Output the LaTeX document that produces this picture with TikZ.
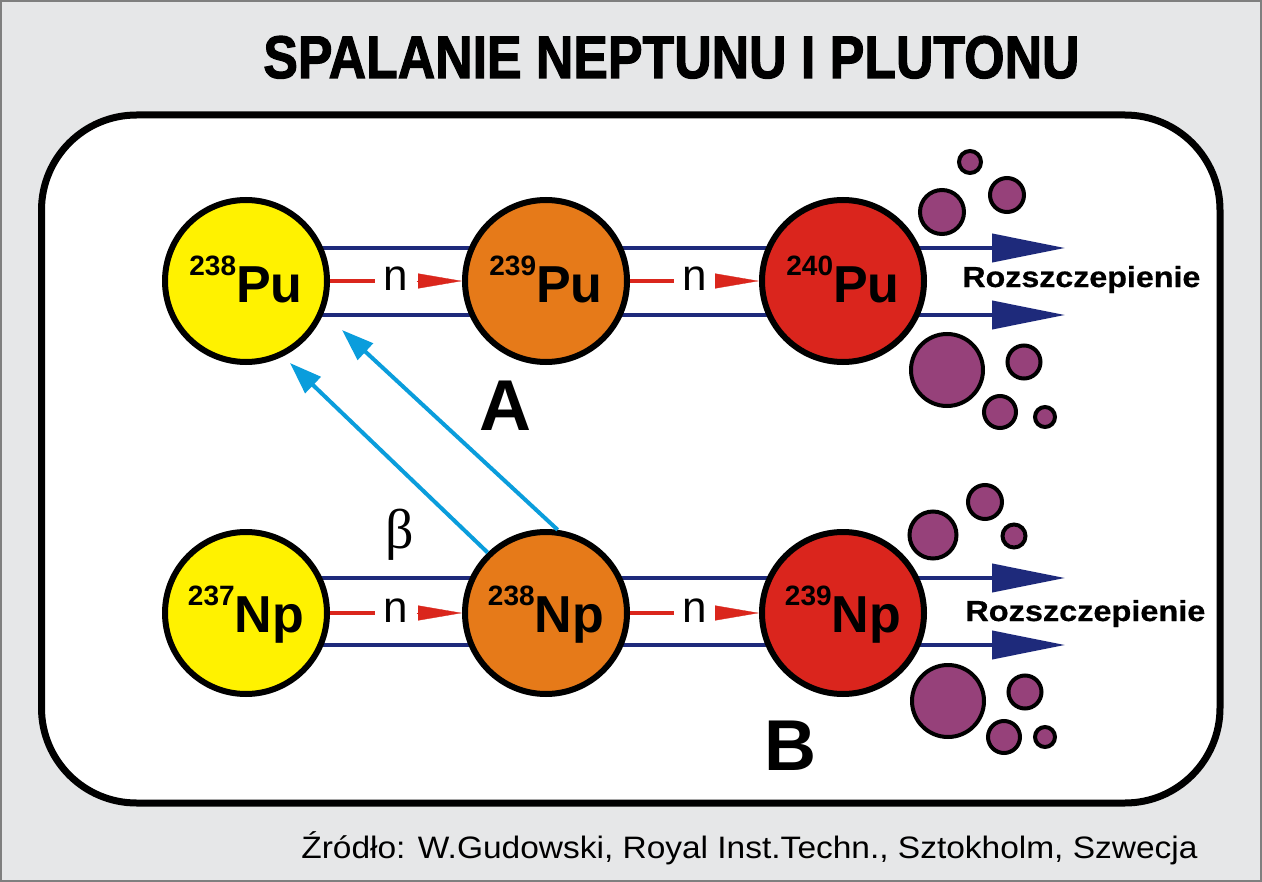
\documentclass[tikz,border=0pt]{standalone}
\usepackage{fontspec}
\setmainfont{Liberation Sans}
\newfontfamily\grkfont{Liberation Serif}
\newfontfamily\titlefont[FakeBold=2]{Liberation Sans Bold}
\newfontfamily\fisfont[FakeBold=0.6]{Liberation Sans Bold}
\usetikzlibrary{arrows.meta}
\newdimen\pxu \pxu=0.02cm
\definecolor{bg}{HTML}{E6E7E8}
\definecolor{edge}{HTML}{7F7F7F}
\definecolor{yel}{HTML}{FFF200}
\definecolor{ora}{HTML}{E67A19}
\definecolor{redc}{HTML}{DA251D}
\definecolor{purp}{HTML}{96417A}
\definecolor{navy}{HTML}{1E2A7B}
\definecolor{nred}{HTML}{DA261C}
\definecolor{cyanb}{HTML}{0A9DDC}
\newcommand\nuclab[2]{\raisebox{27\pxu}{\fontsize{28\pxu}{28\pxu}\selectfont\bfseries #1}{\fontsize{52\pxu}{52\pxu}\selectfont\bfseries #2}}
\begin{document}
\begin{tikzpicture}[x=0.02cm,y=-0.02cm,
  nuc/.style={circle, draw=black, line width=6\pxu, minimum size=162\pxu, inner sep=0pt},
  bub/.style={circle, draw=black, line width=4\pxu, fill=purp, inner sep=0pt},
  fiss/.style={draw=navy, line width=4\pxu, -{Triangle[length=41.5pt,width=15.9pt]}},
  nline/.style={draw=nred, line width=4\pxu, shorten >=8\pxu},
  ntip/.style={draw=nred, line width=0.3\pxu, shorten <=8\pxu, -{Triangle[length=25pt,width=8.5pt]}},
  decay/.style={draw=cyanb, line width=4\pxu, -{Triangle[length=18.2pt,width=12.5pt]}},
  nlab/.style={font=\fontsize{44\pxu}{44\pxu}\selectfont, inner sep=0pt, anchor=base},
  lab/.style={inner sep=0pt, anchor=base},
  big/.style={font=\fontsize{72\pxu}{72\pxu}\selectfont\bfseries, inner sep=0pt, anchor=base},
  fissl/.style={inner sep=0pt, anchor=base west}
]
\useasboundingbox (0,0) rectangle (1262,882);
\fill[bg] (0,0) rectangle (1262,882);
\draw[edge, line width=2\pxu] (1,1) rectangle (1261,881);
% title
\node[inner sep=0pt, anchor=base west] (title) at (263,78)
  {\resizebox{816\pxu}{42\pxu}{\titlefont SPALANIE NEPTUNU I PLUTONU}};
% panel
\draw[line width=7\pxu, fill=white, rounded corners=95\pxu] (41.5,115) rectangle (1220,803);
% footer
\node[inner sep=0pt, anchor=base west] (src) at (301,858)
  {\scalebox{1.08}[1]{\fontsize{31\pxu}{31\pxu}\selectfont Źródło: W.Gudowski, Royal Inst.Techn., Sztokholm, Szwecja}};

% coordinates
\coordinate (fA1) at (1065,248);
\coordinate (fA2) at (1065,315);
\coordinate (fB1) at (1065,578);
\coordinate (fB2) at (1065,645);
\coordinate (tA1) at (290,363);
\coordinate (tA2) at (342,330);

% nucleus positions
\path (246,281) node[nuc, draw=none] (pu238) {}
      (546,281) node[nuc, draw=none] (pu239) {}
      (843,281) node[nuc, draw=none] (pu240) {}
      (246,613) node[nuc, draw=none] (np237) {}
      (546,613) node[nuc, draw=none] (np238) {}
      (843,613) node[nuc, draw=none] (np239) {};

% fission axis lines
\draw[fiss] (pu238.center |- fA1) -- (fA1);
\draw[fiss] (pu238.center |- fA2) -- (fA2);
\draw[fiss] (np237.center |- fB1) -- (fB1);
\draw[fiss] (np237.center |- fB2) -- (fB2);

% circles drawn over the lines
\node[nuc, fill=yel] (Pu238) at (pu238) {};
\node[nuc, fill=ora] (Pu239) at (pu239) {};
\node[nuc, fill=redc] (Pu240) at (pu240) {};
\node[nuc, fill=yel] (Np237) at (np237) {};
\node[nuc, fill=ora] (Np238) at (np238) {};
\node[nuc, fill=redc] (Np239) at (np239) {};

\node[lab] (l1) at ([yshift=-21\pxu]Pu238.center) {\nuclab{238}{Pu}};
\node[lab] (l2) at ([yshift=-21\pxu]Pu239.center) {\nuclab{239}{Pu}};
\node[lab] (l3) at ([yshift=-21\pxu]Pu240.center) {\nuclab{240}{Pu}};
\node[lab] (l4) at ([yshift=-19\pxu]Np237.center) {\nuclab{237}{Np}};
\node[lab] (l5) at ([yshift=-19\pxu]Np238.center) {\nuclab{238}{Np}};
\node[lab] (l6) at ([yshift=-19\pxu]Np239.center) {\nuclab{239}{Np}};

% neutron captures
\node[nlab] (nA1) at (396,290) {n};
\node[nlab] (nA2) at (694.5,290) {n};
\node[nlab] (nB1) at (396,622) {n};
\node[nlab] (nB2) at (694.5,622) {n};
\draw[nline] (Pu238.east) -- (nA1.west |- Pu238.east);
\draw[ntip] (nA1.east |- Pu239.west) -- (Pu239.west);
\draw[nline] (Pu239.east) -- (nA2.west |- Pu239.east);
\draw[ntip] (nA2.east |- Pu240.west) -- (Pu240.west);
\draw[nline] (Np237.east) -- (nB1.west |- Np237.east);
\draw[ntip] (nB1.east |- Np238.west) -- (Np238.west);
\draw[nline] (Np238.east) -- (nB2.west |- Np238.east);
\draw[ntip] (nB2.east |- Np239.west) -- (Np239.west);

% beta decay arrows
\draw[decay] (Np238.134) -- (tA1);
\draw[decay] (Np238.82) -- (tA2);
\node[inner sep=0pt, font=\fontsize{56\pxu}{56\pxu}\selectfont\grkfont] (beta) at (400,535) {β};

% A / B
\node[big] (A) at (505,430) {A};
\node[big] (B) at (790,770) {B};

% fission labels
\node[fissl] (rA) at (962,287) {\resizebox{238\pxu}{21\pxu}{\fisfont Rozszczepienie}};
\node[fissl] (rB) at (965,621) {\resizebox{240\pxu}{21\pxu}{\fisfont Rozszczepienie}};

% fragments row A
\node[bub, minimum size=22\pxu] (a1) at (970,162) {};
\node[bub, minimum size=44\pxu] (a2) at (942,212) {};
\node[bub, minimum size=34\pxu] (a3) at (1007,195) {};
\node[bub, minimum size=72\pxu] (a4) at (947,370) {};
\node[bub, minimum size=33\pxu] (a5) at (1024,362) {};
\node[bub, minimum size=32\pxu] (a6) at (1000,412) {};
\node[bub, minimum size=20\pxu] (a7) at (1045,417) {};
% fragments row B
\node[bub, minimum size=34\pxu] (b1) at (985,502) {};
\node[bub, minimum size=47\pxu] (b2) at (933,535) {};
\node[bub, minimum size=23\pxu] (b3) at (1014,536) {};
\node[bub, minimum size=72\pxu] (b4) at (948,701) {};
\node[bub, minimum size=33\pxu] (b5) at (1025,692) {};
\node[bub, minimum size=32\pxu] (b6) at (1004,737) {};
\node[bub, minimum size=20\pxu] (b7) at (1045,737) {};
\end{tikzpicture}
\end{document}
